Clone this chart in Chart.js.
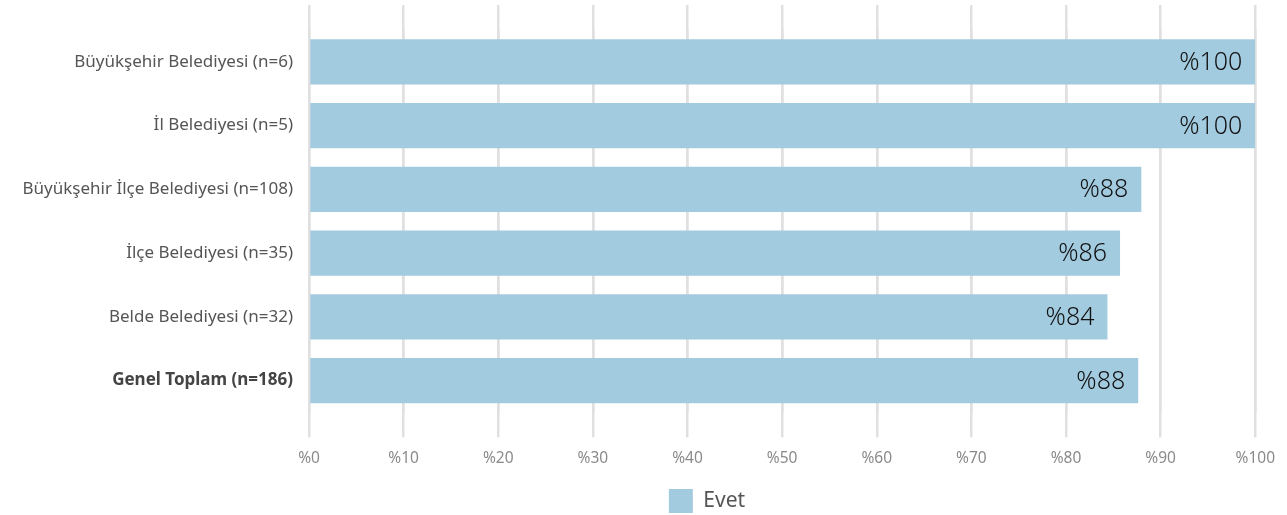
<!DOCTYPE html>
<html>
<head>
<meta charset="utf-8">
<script src="https://cdn.jsdelivr.net/npm/chart.js@4.4.1/dist/chart.umd.min.js"></script>
<style>
  html, body { margin: 0; padding: 0; background: #fff; }
  #wrap { width: 1287px; height: 515px; }
</style>
</head>
<body>
<div id="wrap"><canvas id="chart"></canvas></div>
<script>
// --- data ---
const categories = [
  'Büyükşehir Belediyesi (n=6)',
  'İl Belediyesi (n=5)',
  'Büyükşehir İlçe Belediyesi (n=108)',
  'İlçe Belediyesi (n=35)',
  'Belde Belediyesi (n=32)',
  'Genel Toplam (n=186)'
];
const evetValues = [100, 100, 87.96, 85.71, 84.38, 87.63];
const seriesName = 'Evet';
const xTicks = [0, 10, 20, 30, 40, 50, 60, 70, 80, 90, 100];

const FONT = "'Noto Sans', sans-serif";
const barColor = '#a3cbe0';
const gridColor = '#e0e0e0';

// value labels inside bar end
const barLabels = {
  id: 'barLabels',
  afterDatasetsDraw(chart) {
    const ctx = chart.ctx;
    const meta = chart.getDatasetMeta(0);
    ctx.save();
    ctx.font = '300 25px ' + FONT;
    ctx.fillStyle = '#111';
    ctx.textAlign = 'right';
    ctx.textBaseline = 'middle';
    meta.data.forEach((bar, i) => {
      ctx.fillText('%' + Math.round(evetValues[i]), bar.x - 13, bar.y + 1);
    });
    ctx.restore();
  }
};

// legend sits right of centre and a bit lower in the original
const legendShift = {
  id: 'legendShift',
  afterLayout(chart) {
    chart.legend.left += 79;
    chart.legend.right += 79;
    chart.legend.top += 8;
    chart.legend.bottom += 8;
  }
};

new Chart(document.getElementById('chart').getContext('2d'), {
  type: 'bar',
  data: {
    labels: categories,
    datasets: [{
      label: seriesName,
      data: evetValues,
      backgroundColor: barColor,
      borderWidth: 0,
      barPercentage: 0.71,
      categoryPercentage: 1
    }]
  },
  options: {
    indexAxis: 'y',
    responsive: true,
    maintainAspectRatio: false,
    animation: false,
    layout: { padding: { top: 5, right: 31, bottom: 0, left: 0 } },
    plugins: {
      legend: {
        position: 'bottom',
        labels: { boxWidth: 24, boxHeight: 24, padding: 1, color: '#555', font: { family: FONT, size: 21 } }
      },
      tooltip: { enabled: false }
    },
    scales: {
      x: {
        min: 0, max: 100,
        afterBuildTicks: s => { s.ticks = xTicks.map(v => ({ value: v })); },
        grid: { color: gridColor, lineWidth: 2.5, tickLength: 25, drawTicks: true, tickColor: gridColor },
        border: { display: false },
        ticks: { color: '#8a8a8a', padding: 12, font: { family: FONT, size: 15.5 }, callback: v => '%' + v }
      },
      x2: {
        position: 'top',
        min: 0, max: 100,
        afterBuildTicks: s => { s.ticks = xTicks.map(v => ({ value: v })); },
        grid: { color: gridColor, lineWidth: 2.5, tickLength: 25, drawTicks: true, tickColor: gridColor },
        border: { display: false },
        ticks: { display: false }
      },
      y: {
        grid: { display: false, drawTicks: false },
        border: { display: false },
        afterFit: s => { s.width = 309; },
        ticks: {
          padding: 16,
          color: ctx => ctx.index === categories.length - 1 ? '#444' : '#555',
          font: ctx => ({ family: FONT, size: 17, weight: ctx.index === categories.length - 1 ? 'bold' : 'normal' })
        }
      }
    }
  },
  plugins: [barLabels, legendShift]
});
</script>
</body>
</html>
